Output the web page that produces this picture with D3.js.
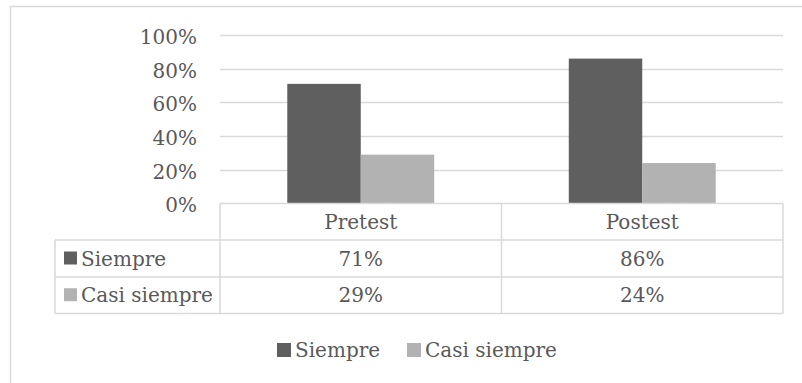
<!DOCTYPE html>
<html>
<head>
<meta charset="utf-8">
<script src="https://cdn.jsdelivr.net/npm/d3@7"></script>
<style>
  html, body { margin: 0; padding: 0; background: #fff; }
  svg { display: block; }
  text { font-family: "DejaVu Serif", serif; fill: #595959; }
</style>
</head>
<body>
<svg id="chart" width="802" height="383"></svg>
<script>
// Chart data
const categories = ["Pretest", "Postest"];
const seriesNames = ["Siempre", "Casi siempre"];
const siempre = [0.71, 0.86];
const casiSiempre = [0.29, 0.24];
const tickValues = [0, 0.2, 0.4, 0.6, 0.8, 1.0];
const tickLabels = ["0%", "20%", "40%", "60%", "80%", "100%"];
const cellLabels = [["71%", "86%"], ["29%", "24%"]];
const seriesColors = ["#5f5f5f", "#b2b2b2"];

const seriesValues = [siempre, casiSiempre];
const svg = d3.select("#chart");
const fontSize = 20;
const lineColor = "#d9d9d9";

// Outer chart frame
svg.append("rect")
  .attr("x", 10.5).attr("y", 6.5)
  .attr("width", 820).attr("height", 400)
  .attr("fill", "#fff").attr("stroke", lineColor).attr("stroke-width", 1.5);

// Plot geometry
const plotLeft = 220, plotRight = 783, plotTop = 35, plotBottom = 203.5;
const tableLeft = 55;
const rowEdges = [203.5, 240, 277, 313.5];

const x0 = d3.scaleBand().domain(categories).range([plotLeft, plotRight]);
const step = x0.bandwidth();
const gap = step * 0.478;
const x1 = d3.scaleBand().domain(seriesNames).range([gap / 2, step - gap / 2]);
const y = d3.scaleLinear().domain([0, 1]).range([plotBottom, plotTop]);

// Horizontal gridlines
svg.append("g").selectAll("line")
  .data(tickValues.filter(v => v > 0))
  .join("line")
  .attr("x1", plotLeft).attr("x2", plotRight)
  .attr("y1", d => Math.round(y(d)) + 0.5).attr("y2", d => Math.round(y(d)) + 0.5)
  .attr("stroke", lineColor).attr("stroke-width", 1.5);

// Y axis labels
const yAxis = d3.axisLeft(y).tickValues(tickValues)
  .tickFormat((d, i) => tickLabels[i]).tickSize(0).tickPadding(0);
const yg = svg.append("g").attr("transform", "translate(197,0)").call(yAxis);
yg.select(".domain").remove();
yg.selectAll("text")
  .attr("font-size", fontSize)
  .attr("font-family", "DejaVu Serif")
  .attr("fill", "#595959")
  .attr("dy", "0.42em");

// Bars
seriesNames.forEach((s, si) => {
  svg.append("g").selectAll("rect")
    .data(categories.map((c, ci) => ({ c, v: seriesValues[si][ci] })))
    .join("rect")
    .attr("x", d => x0(d.c) + x1(s))
    .attr("y", d => y(d.v))
    .attr("width", x1.bandwidth())
    .attr("height", d => y(0) - y(d.v))
    .attr("fill", seriesColors[si]);
});

// Data table
const table = svg.append("g").attr("stroke", lineColor).attr("stroke-width", 1.5).attr("fill", "none");
// header row (categories)
table.append("line").attr("x1", plotLeft).attr("x2", plotRight).attr("y1", rowEdges[0]).attr("y2", rowEdges[0]);
// rows spanning the label column
rowEdges.slice(1).forEach(yy => {
  table.append("line").attr("x1", tableLeft).attr("x2", plotRight).attr("y1", yy).attr("y2", yy);
});
// vertical lines
[plotLeft, x0(categories[1]), plotRight].forEach(xx => {
  table.append("line").attr("x1", xx).attr("x2", xx).attr("y1", rowEdges[0]).attr("y2", rowEdges[3]);
});
table.append("line").attr("x1", tableLeft).attr("x2", tableLeft).attr("y1", rowEdges[1]).attr("y2", rowEdges[3]);

// Category header text
svg.append("g").selectAll("text")
  .data(categories)
  .join("text")
  .attr("x", d => x0(d) + step / 2)
  .attr("y", (rowEdges[0] + rowEdges[1]) / 2)
  .attr("dy", "0.36em")
  .attr("text-anchor", "middle")
  .attr("font-size", fontSize)
  .text(d => d);

// Value cells and row labels with keys
seriesNames.forEach((s, si) => {
  const cy = (rowEdges[si + 1] + rowEdges[si + 2]) / 2;
  svg.append("rect")
    .attr("x", 64).attr("y", cy - 7)
    .attr("width", 13).attr("height", 13)
    .attr("fill", seriesColors[si]);
  svg.append("text")
    .attr("x", 81).attr("y", cy).attr("dy", "0.36em")
    .attr("font-size", fontSize)
    .text(s);
  svg.append("g").selectAll("text")
    .data(categories)
    .join("text")
    .attr("x", d => x0(d) + step / 2)
    .attr("y", cy).attr("dy", "0.36em")
    .attr("text-anchor", "middle")
    .attr("font-size", fontSize)
    .text((d, ci) => cellLabels[si][ci]);
});

// Legend
const legendY = 350;
const legendItems = [{ x: 277, name: seriesNames[0], color: seriesColors[0] },
                     { x: 407, name: seriesNames[1], color: seriesColors[1] }];
const lg = svg.append("g");
legendItems.forEach(it => {
  lg.append("rect").attr("x", it.x).attr("y", legendY - 7)
    .attr("width", 14).attr("height", 14).attr("fill", it.color);
  lg.append("text").attr("x", it.x + 18).attr("y", legendY).attr("dy", "0.36em")
    .attr("font-size", fontSize).text(it.name);
});
</script>
</body>
</html>
